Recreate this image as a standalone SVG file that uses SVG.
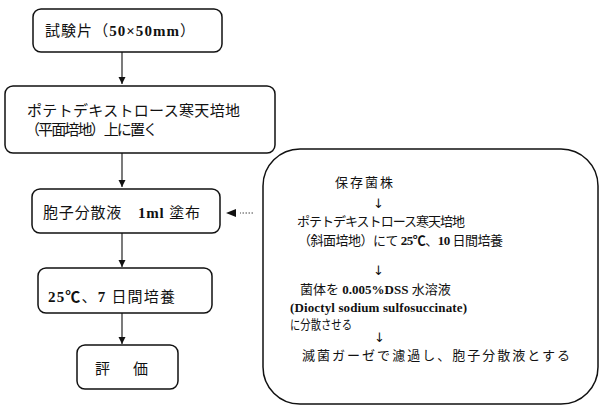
<svg xmlns="http://www.w3.org/2000/svg" width="600" height="407" viewBox="0 0 600 407">
<defs>
<style>
.box{fill:#fff;stroke:#111;stroke-width:1.5}
.t{font-family:"Liberation Serif","Noto Sans CJK JP",serif;fill:#111}
.l{font-size:15px}
.r{font-size:13px}
.b{font-weight:bold}
.ar{font-family:"DejaVu Sans",sans-serif;font-size:13px;fill:#111}
.c{stroke:#222;stroke-width:1.2;fill:none}
.d{stroke:#444;stroke-width:1;fill:none;stroke-dasharray:1.5 1.5}
</style>
<marker id="ah" markerWidth="8" markerHeight="8" refX="7" refY="4" orient="auto" markerUnits="userSpaceOnUse">
<path d="M0,0.5 L7,4 L0,7.5 Z" fill="#111"/>
</marker>
</defs>
<rect width="600" height="407" fill="#fff"/>
<g id="connectors">
<line class="c" x1="122" y1="52" x2="122" y2="84" marker-end="url(#ah)"/>
<line class="c" x1="122" y1="153" x2="122" y2="187" marker-end="url(#ah)"/>
<line class="c" x1="122" y1="233" x2="122" y2="267" marker-end="url(#ah)"/>
<line class="c" x1="122" y1="313" x2="122" y2="344" marker-end="url(#ah)"/>
<line class="d" x1="253" y1="213" x2="240" y2="213"/>
<path d="M236,209 L226,213 L236,217 Z" fill="#111"/>
</g>
<g id="n1">
<rect class="box" x="33" y="9" width="189" height="43" rx="8"/>
<text class="t l" x="45" y="36" textLength="150">試験片（<tspan class="b">50×50mm</tspan>）</text>
</g>
<g id="n2">
<rect class="box" x="5" y="86" width="270" height="67" rx="8"/>
<text class="t l" x="27" y="116" textLength="213">ポテトデキストロース寒天培地</text>
<text class="t l" x="25" y="135" textLength="133">（平面培地）上に置く</text>
</g>
<g id="n3">
<rect class="box" x="32" y="189" width="188" height="44" rx="8"/>
<text class="t l" x="43" y="218" textLength="157">胞子分散液　<tspan class="b">1ml</tspan> 塗布</text>
</g>
<g id="n4">
<rect class="box" x="38" y="268" width="174" height="45" rx="8"/>
<text class="t l" x="48" y="302" textLength="127"><tspan class="b">25℃</tspan>、<tspan class="b">7</tspan> 日間培養</text>
</g>
<g id="n5">
<rect class="box" x="77" y="345" width="101" height="44" rx="8"/>
<text class="t l" x="95" y="374" textLength="53">評　価</text>
</g>
<g id="n6">
<rect class="box" x="263" y="149" width="335" height="255" rx="37"/>
<text class="t r" x="335" y="187" textLength="58">保存菌株</text>
<text class="ar" x="373" y="208">↓</text>
<text class="t r" x="297" y="226" textLength="168">ポテトデキストロース寒天培地</text>
<text class="t r" x="298" y="245" textLength="205">（斜面培地）にて <tspan class="b">25℃</tspan>、<tspan class="b">10</tspan> 日間培養</text>
<text class="ar" x="373" y="275">↓</text>
<text class="t r" x="300" y="294">菌体を <tspan class="b">0.005%DSS</tspan> 水溶液</text>
<text class="t r b" x="290" y="312" textLength="177">(Dioctyl sodium sulfosuccinate)</text>
<text class="t r" x="290" y="329" textLength="62" lengthAdjust="spacingAndGlyphs">に分散させる</text>
<text class="ar" x="374" y="342">↓</text>
<text class="t r" x="302" y="360" textLength="268">滅菌ガーゼで濾過し、胞子分散液とする</text>
</g>
</svg>
